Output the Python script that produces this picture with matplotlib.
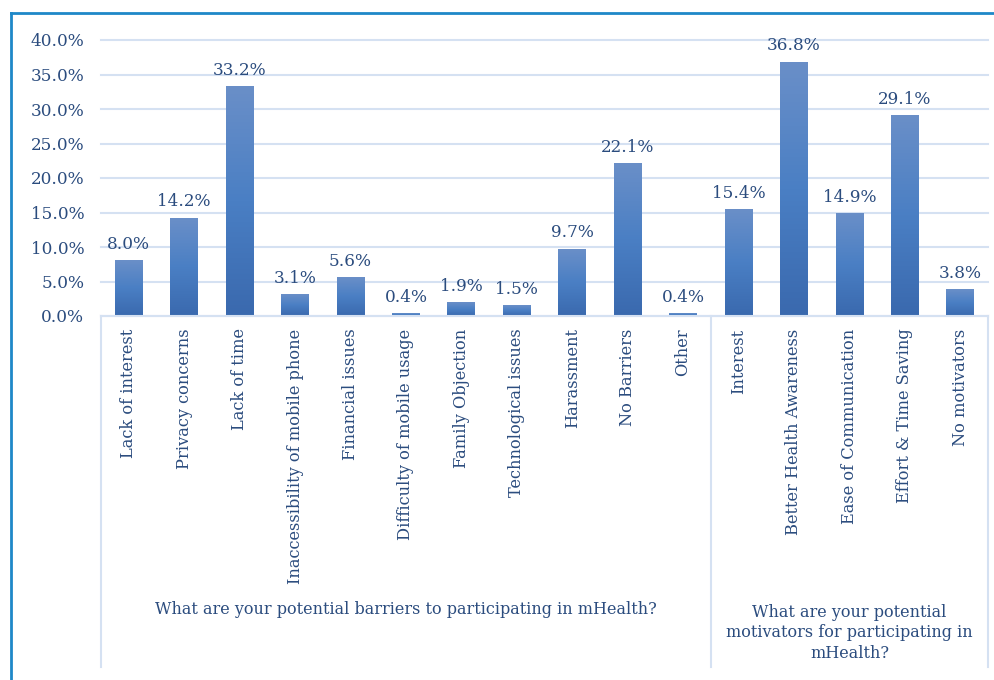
import numpy as np
import matplotlib
matplotlib.use("Agg")
import matplotlib.pyplot as plt
from matplotlib.lines import Line2D
from matplotlib.colors import LinearSegmentedColormap
import matplotlib.transforms as mtransforms

# data
barriers = ["Lack of interest", "Privacy concerns", "Lack of time",
            "Inaccessibility of mobile phone", "Financial issues",
            "Difficulty of mobile usage", "Family Objection",
            "Technological issues", "Harassment", "No Barriers", "Other"]
barrier_vals = [8.0, 14.2, 33.2, 3.1, 5.6, 0.4, 1.9, 1.5, 9.7, 22.1, 0.4]
motivators = ["Interest", "Better Health Awareness", "Ease of Communication",
              "Effort & Time Saving", "No motivators"]
motivator_vals = [15.4, 36.8, 14.9, 29.1, 3.8]
group_titles = ["What are your potential barriers to participating in mHealth?",
                "What are your potential\nmotivators for participating in\nmHealth?"]
yticks = [0, 5, 10, 15, 20, 25, 30, 35, 40]

labels = barriers + motivators
vals = np.array(barrier_vals + motivator_vals) / 100.0
x = np.arange(len(labels))

txt = "#2B4C7E"
grid_c = "#D5E1F2"
plt.rcParams['font.family'] = ['DejaVu Serif']

fig = plt.figure(figsize=(9.94, 6.8), dpi=100)
ax = fig.add_axes([101/994, 1-316/680, (988-101)/994, 276/680])

cmap = LinearSegmentedColormap.from_list("bar", ["#3A69AE", "#4A7FC4", "#6A8FC8"])
grad = np.linspace(0, 1, 256).reshape(-1, 1)
bw = 0.5
bars = ax.bar(x, vals, width=bw, color="none", edgecolor="none")
for b in bars:
    x0, h = b.get_x(), b.get_height()
    ax.imshow(grad, cmap=cmap, origin="lower", aspect="auto",
              extent=[x0, x0 + bw, 0, h], zorder=2)
    ax.text(x0 + bw/2, h + 0.011, "{:.1f}%".format(h*100), ha="center", va="bottom",
            color=txt, fontsize=12.2)

ax.set_xlim(-0.5, len(labels) - 0.5)
ax.set_ylim(0, 0.4)
ax.set_yticks([t/100 for t in yticks])
ax.set_yticklabels(["{:.1f}%".format(t) for t in yticks], color=txt, fontsize=12.2)
ax.yaxis.grid(True, color=grid_c, lw=1.5, zorder=0)
ax.set_axisbelow(True)
for g in ax.get_ygridlines():
    g.set_clip_on(False)
ax.tick_params(axis="y", length=0, pad=12)
ax.set_xticks(x)
ax.set_xticklabels(labels, rotation=90, va="top", ha="center", color=txt, fontsize=11.7)
ax.tick_params(axis="x", length=0, pad=9)
for s in ["top", "right", "left"]:
    ax.spines[s].set_visible(False)
ax.spines["bottom"].set_color(grid_c)
ax.spines["bottom"].set_linewidth(1.5)

# group separators below axis
tr = mtransforms.blended_transform_factory(ax.transData, ax.transAxes)
for sx in [-0.5, len(barriers) - 0.5, len(labels) - 0.5]:
    ax.add_line(Line2D([sx, sx], [0, -1.27], transform=tr, color=grid_c, lw=1.5, clip_on=False))
ax.text((len(barriers) - 1) / 2, -1.065, group_titles[0], transform=tr, ha="center", va="center",
        color=txt, fontsize=11.5)
ax.text(len(barriers) + (len(motivators) - 1) / 2, -1.148, group_titles[1], transform=tr,
        ha="center", va="center", color=txt, fontsize=11.5, linespacing=1.25)

# outer frame
fig.add_artist(Line2D([11/994, 11/994], [0, 1-13/680], color="#1E88C8", lw=2))
fig.add_artist(Line2D([11/994, 1], [1-13/680, 1-13/680], color="#1E88C8", lw=2))

fig.savefig("out.png", dpi=100)
